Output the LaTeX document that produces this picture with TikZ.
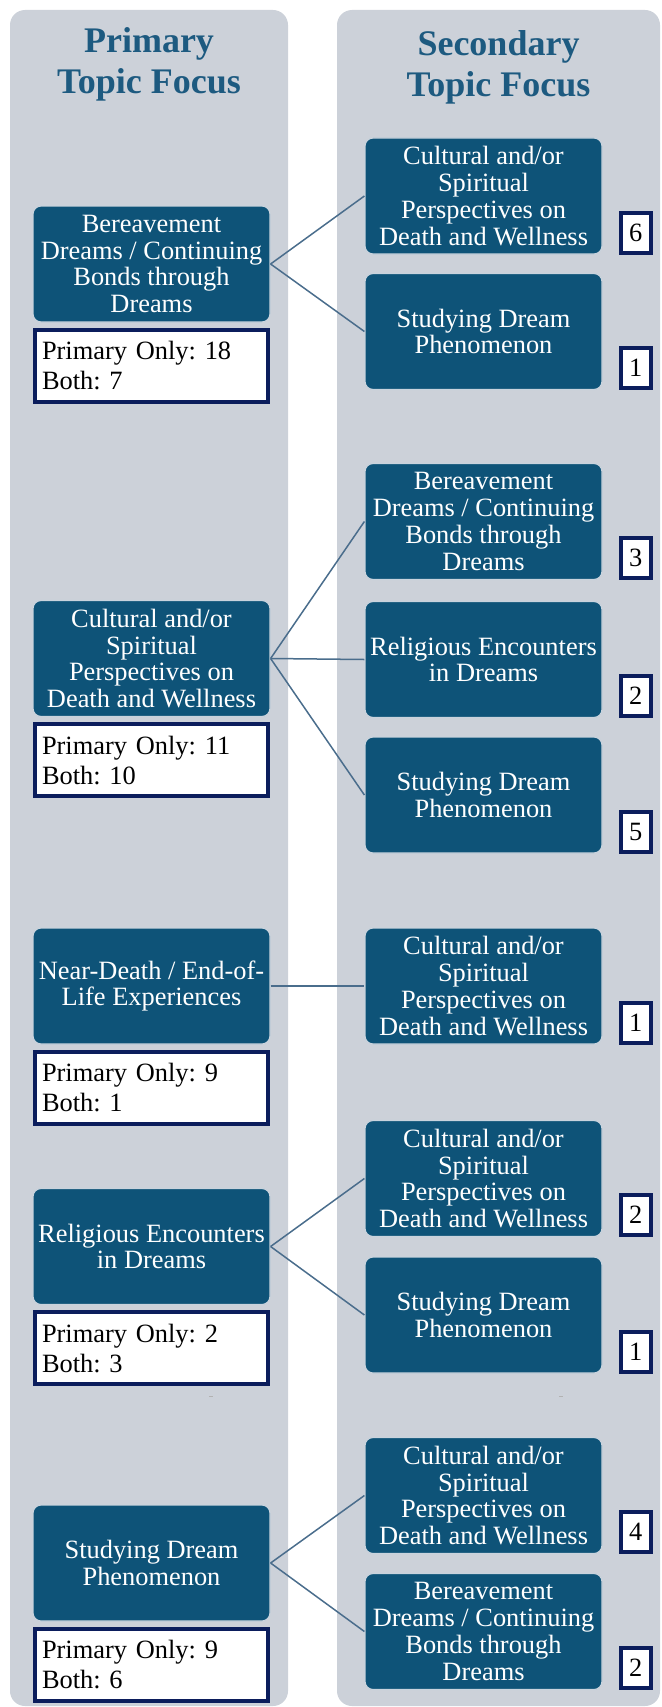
\documentclass[tikz,border=0pt]{standalone}
\usepackage{fontspec}
\setmainfont{Liberation Serif}
\frenchspacing
\usetikzlibrary{positioning}
\definecolor{panelgray}{HTML}{CCD1D9}
\definecolor{topicblue}{HTML}{0E5378}
\definecolor{topicedge}{HTML}{C9D3DD}
\definecolor{headblue}{HTML}{1D5A80}
\definecolor{navy}{HTML}{0B1D5C}
\definecolor{linkblue}{HTML}{4A6D8C}
\newcommand\Bereave{Bereavement\\Dreams / Continuing\\Bonds through\\Dreams}
\newcommand\CultSpir{Cultural and/or\\Spiritual\\Perspectives on\\Death and Wellness}
\newcommand\StudyDream{Studying Dream\\Phenomenon}
\newcommand\RelEnc{Religious Encounters\\in Dreams}
\newcommand\NearDeath{Near-Death / End-of-\\Life Experiences}
\begin{document}
\begin{tikzpicture}[x=0.5pt,y=-0.5pt,
  panel/.style={fill=panelgray,rounded corners=7.5pt},
  head/.style={text=headblue,align=center,font=\fontsize{18pt}{20.5pt}\selectfont\bfseries},
  topic/.style={draw=topicedge,line width=0.6pt,fill=topicblue,rounded corners=4pt,
    minimum width=118.5pt,minimum height=58pt,inner sep=1pt,align=center,text=white,
    font=\fontsize{13.2pt}{13.4pt}\selectfont},
  tally/.style={draw=navy,line width=2pt,fill=white,minimum height=36pt,
    text width=109.5pt,inner xsep=3.5pt,align=left,font=\fontsize{13.2pt}{15pt}\selectfont},
  numbox/.style={draw=navy,line width=2pt,fill=white,minimum width=15pt,minimum height=20pt,
    inner sep=0pt,font=\fontsize{13.2pt}{13.4pt}\selectfont},
  link/.style={draw=linkblue,line width=0.75pt}]
\useasboundingbox (0,0) rectangle (662,1707);
\path[panel] (10,10) rectangle (288,1706);
\path[panel] (337,10) rectangle (660,1706);
\node[head] (H-1) at (149,64) {Primary\\Topic Focus};
\node[head] (H-2) at (498.5,67) {Secondary\\Topic Focus};
\foreach \Py/\Ptxt/\Pri/\Both [count=\Y] in
{264/\Bereave/18/7, 658.5/\CultSpir/11/10, 986/\NearDeath/9/1,
 1246.5/\RelEnc/2/3, 1563/\StudyDream/9/6}
  {\node[topic] (P-\Y) at (151.5,\Py) {\Ptxt};
  \node[tally,below=2.5pt of P-\Y] (C-\Y) {Primary Only: \Pri\\Both: \Both};}
\foreach \Y/\k/\Sy/\Stxt/\Sn in
{1/1/196/\CultSpir/6, 1/2/331.5/\StudyDream/1,
 2/1/521.5/\Bereave/3, 2/2/659.5/\RelEnc/2, 2/3/795/\StudyDream/5,
 3/1/986/\CultSpir/1,
 4/1/1178.5/\CultSpir/2, 4/2/1315/\StudyDream/1,
 5/1/1495.5/\CultSpir/4, 5/2/1631.5/\Bereave/2}
  {\node[topic] (S-\Y-\k) at (483.5,\Sy) {\Stxt};
  \node[numbox,anchor=south west] (N-\Y-\k) at ([xshift=8pt]S-\Y-\k.south east) {\Sn};
  \draw[link] (P-\Y.east) -- (S-\Y-\k.west);}
\draw[gray!60,line width=0.5pt] (209,1396) -- (213,1396) (559,1396) -- (563,1396);
\end{tikzpicture}
\end{document}
